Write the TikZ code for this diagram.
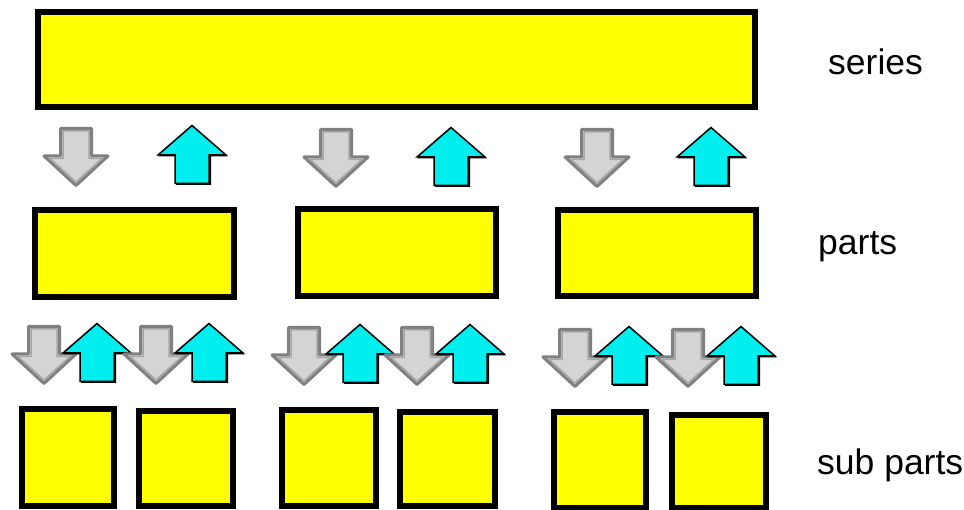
\documentclass[tikz,border=0pt]{standalone}
\usepackage{fontspec}
\setmainfont{Liberation Sans}
\definecolor{boxyellow}{RGB}{255,255,0}
\definecolor{graylight}{RGB}{212,212,212}
\definecolor{graydark}{RGB}{128,128,128}
\definecolor{arrcyan}{RGB}{0,238,238}
\begin{document}
\begin{tikzpicture}[x=1pt,y=-1pt,
  ybox/.style={draw=black,fill=boxyellow,line width=6pt,inner sep=0pt,rectangle},
  lbl/.style={anchor=base west,inner sep=0pt,font=\fontsize{35.5}{42}\selectfont},
  gdown/.pic={
    \draw[fill=graylight,draw=graydark,line width=3pt,line join=round]
      (-15.5,-28.5) -- (15.5,-28.5) -- (15.5,-1) -- (32,-1) -- (0,28.5) -- (-32,-1) -- (-15.5,-1) -- cycle;
    \draw[draw=graydark!70,line width=1.5pt,line join=round]
      (-13,-26) -- (13,-26) -- (13,1.5) -- (26,1.5) -- (0,25) -- (-26,1.5) -- (-13,1.5) -- cycle;
  },
  cup/.pic={
    \fill[black] (-16,30) -- (19,30) -- (19,1.5) -- (36,1.5) -- (1,-28.5) -- (-34,1.5) -- (-16,1.5) -- cycle;
    \draw[fill=arrcyan,draw=black,line width=1.5pt,line join=miter]
      (-17,28.5) -- (17,28.5) -- (17,0) -- (34,0) -- (0,-29.5) -- (-34,0) -- (-17,0) -- cycle;
  }]
\useasboundingbox (0,0) rectangle (964,510);
\fill[white] (0,0) rectangle (964,510);

% series box
\node[ybox,minimum width=717pt,minimum height=95pt] (series) at (396.5,59.5) {};
% parts boxes
\node[ybox,minimum width=199pt,minimum height=87pt] (p1) at (134.5,253.5) {};
\node[ybox,minimum width=198pt,minimum height=87pt] (p2) at (397,252.5) {};
\node[ybox,minimum width=198pt,minimum height=86pt] (p3) at (657,253) {};
% sub parts boxes
\node[ybox,minimum width=92pt,minimum height=97pt] (s1) at (68,457.5) {};
\node[ybox,minimum width=94pt,minimum height=95pt] (s2) at (186,458.5) {};
\node[ybox,minimum width=94pt,minimum height=96pt] (s3) at (329,458) {};
\node[ybox,minimum width=95pt,minimum height=94pt] (s4) at (447.5,459) {};
\node[ybox,minimum width=92pt,minimum height=96pt] (s5) at (600,460) {};
\node[ybox,minimum width=94pt,minimum height=93pt] (s6) at (719,461.5) {};

% top row arrows
\pic at (76,157) {gdown};
\pic at (192,155) {cup};
\pic at (336,158) {gdown};
\pic at (451,157) {cup};
\pic at (597,158) {gdown};
\pic at (711,157) {cup};

% sub row arrows
\pic at (44,355) {gdown};
\pic at (97,353) {cup};
\pic at (156,355) {gdown};
\pic at (209,353) {cup};
\pic at (304,356) {gdown};
\pic at (360,354) {cup};
\pic at (417,356) {gdown};
\pic at (470,354) {cup};
\pic at (575,358) {gdown};
\pic at (629,356) {cup};
\pic at (688,358) {gdown};
\pic at (741,356) {cup};

% labels
\node[lbl] (lseries) at (828,75) {series};
\node[lbl] (lparts) at (818,255) {parts};
\node[lbl] (lsub) at (817,475) {sub parts};
\end{tikzpicture}
\end{document}
